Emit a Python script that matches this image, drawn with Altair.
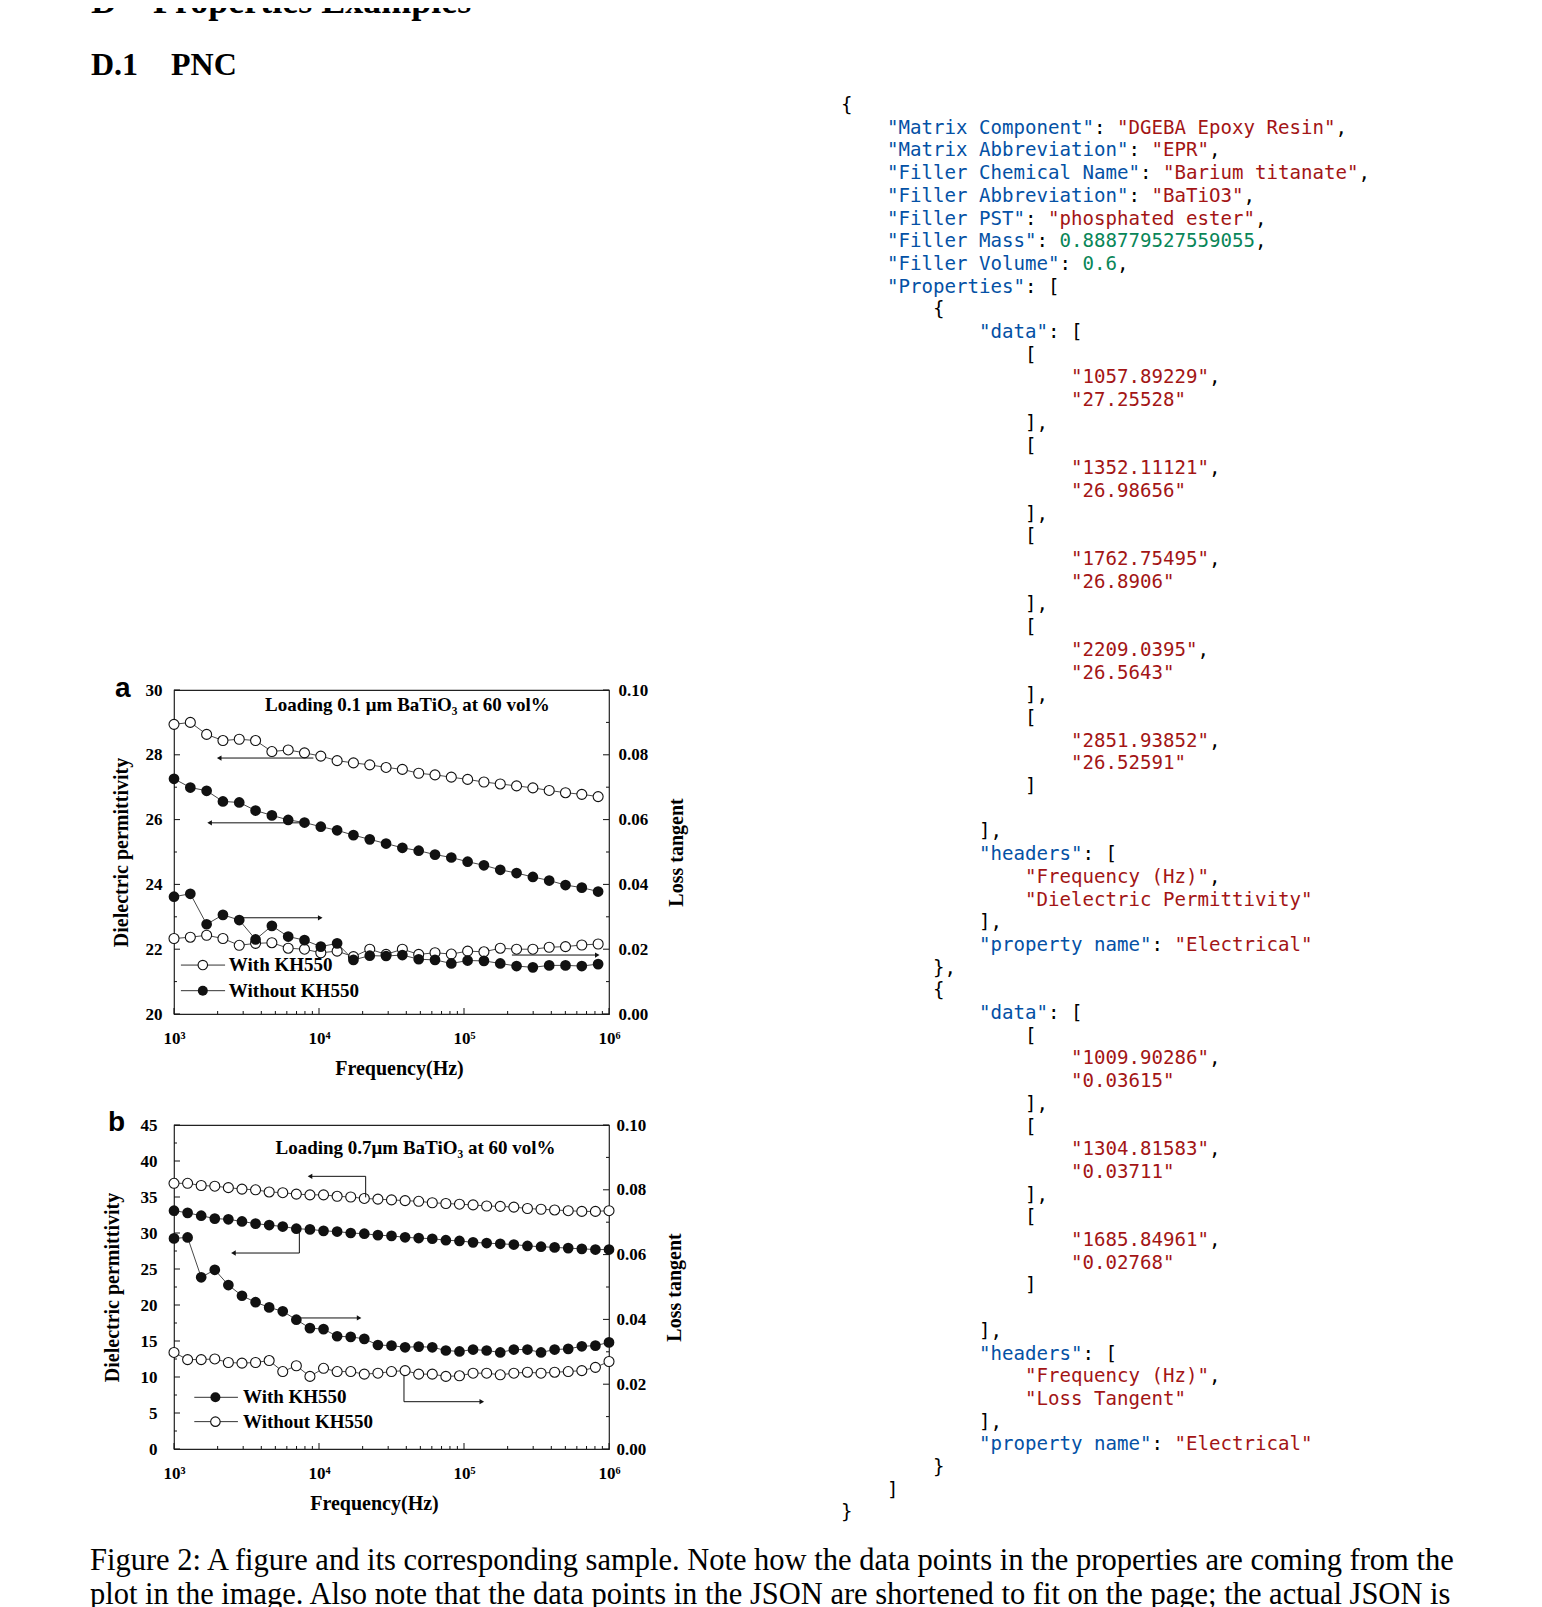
import altair as alt
import pandas as pd

# ---------------- Panel a data (0.1 um BaTiO3) ----------------
a_freq = [1000, 1296, 1679, 2175, 2818, 3652, 4732, 6131, 7943, 10290, 13335, 17278, 22387, 29007,
          37584, 48697, 63096, 81752, 105925, 137246, 177828, 230409, 298538, 386812, 501187, 649382, 841395]
a_diel_with = [28.94, 29.00, 28.63, 28.44, 28.48, 28.44, 28.10, 28.15, 28.06, 27.96, 27.82, 27.75, 27.69, 27.61,
               27.55, 27.43, 27.38, 27.31, 27.24, 27.16, 27.10, 27.04, 26.98, 26.90, 26.83, 26.78, 26.71]
a_diel_without = [27.26, 26.99, 26.89, 26.56, 26.53, 26.28, 26.13, 25.99, 25.91, 25.78, 25.67, 25.52, 25.39, 25.26,
                  25.13, 25.04, 24.92, 24.83, 24.70, 24.59, 24.45, 24.35, 24.23, 24.12, 23.98, 23.90, 23.78]
a_loss_without = [0.0362, 0.0371, 0.0277, 0.0306, 0.0290, 0.0230, 0.0272, 0.0239, 0.0228, 0.0208, 0.0218, 0.0167,
                  0.0180, 0.0179, 0.0182, 0.0169, 0.0167, 0.0156, 0.0165, 0.0164, 0.0156, 0.0148, 0.0144, 0.0150,
                  0.0150, 0.0148, 0.0154]
a_loss_with = [0.0233, 0.0237, 0.0243, 0.0233, 0.0212, 0.0218, 0.0220, 0.0203, 0.0200, 0.0189, 0.0194, 0.0177,
               0.0200, 0.0184, 0.0200, 0.0184, 0.0189, 0.0185, 0.0194, 0.0192, 0.0203, 0.0200, 0.0200, 0.0206,
               0.0208, 0.0213, 0.0216]
a_title = "Loading 0.1 \u03bcm BaTiO\u2083 at 60 vol%"
a_title_pos = (40700, 29.54)
a_harrows = [(9150, 2050, 27.9), (7600, 1760, 25.9), (2870, 10200, 22.97), (214000, 830000, 21.82)]
a_varrows = []
a_legend = [(1116, 2250, 1580, 2390, 21.51, "open", "With KH550"),
            (1116, 2250, 1580, 2390, 20.72, "fill", "Without KH550")]

# ---------------- Panel b data (0.7 um BaTiO3) ----------------
b_freq = [1000, 1241, 1540, 1911, 2371, 2943, 3652, 4532, 5623, 6978, 8660, 10746, 13335, 16548, 20535,
          25483, 31623, 39242, 48697, 60430, 74989, 93057, 115478, 143301, 177828, 220673, 273842, 339821,
          421697, 523299, 649382, 805842, 1000000]
b_diel_without = [36.9, 36.9, 36.6, 36.5, 36.3, 36.1, 36.0, 35.7, 35.6, 35.4, 35.3, 35.3, 35.1, 35.0, 34.8,
                  34.7, 34.6, 34.5, 34.4, 34.2, 34.1, 34.0, 33.9, 33.75, 33.7, 33.6, 33.4, 33.3, 33.2, 33.1,
                  33.0, 33.0, 33.1]
b_diel_with = [33.1, 32.8, 32.4, 32.0, 31.9, 31.6, 31.3, 31.1, 30.9, 30.6, 30.5, 30.3, 30.2, 30.0, 29.9,
               29.7, 29.6, 29.4, 29.3, 29.2, 29.0, 28.9, 28.7, 28.6, 28.5, 28.4, 28.2, 28.1, 28.0, 27.9,
               27.8, 27.7, 27.7]
b_loss_with = [0.0650, 0.0653, 0.0530, 0.0553, 0.0506, 0.0473, 0.0453, 0.0437, 0.0425, 0.0399, 0.0373, 0.0370,
               0.0348, 0.0346, 0.0340, 0.0321, 0.0319, 0.0314, 0.0316, 0.0314, 0.0304, 0.0301, 0.0307, 0.0304,
               0.0298, 0.0307, 0.0307, 0.0298, 0.0307, 0.0309, 0.0317, 0.0319, 0.0329]
b_loss_without = [0.0298, 0.0276, 0.0276, 0.0278, 0.0267, 0.0265, 0.0267, 0.0273, 0.0239, 0.0257, 0.0224,
                  0.0249, 0.0239, 0.0239, 0.0231, 0.0234, 0.0239, 0.0242, 0.0231, 0.0231, 0.0224, 0.0226,
                  0.0234, 0.0234, 0.0229, 0.0234, 0.0237, 0.0234, 0.0237, 0.0239, 0.0242, 0.0252, 0.0270]
b_title = "Loading 0.7\u03bcm BaTiO\u2083 at 60 vol%"
b_title_pos = (46300, 41.76)
b_harrows = [(20980, 8670, 37.87), (7320, 2570, 27.22), (7460, 18900, 18.2), (38550, 132700, 6.57)]
b_varrows = [(20980, 34.95, 37.87), (7320, 30.56, 27.22), (38550, 10.65, 6.57)]
b_legend = [(1380, 2760, 1930, 2990, 7.18, "fill", "With KH550"),
            (1380, 2760, 1930, 2990, 3.80, "open", "Without KH550")]

# ---------------- axis ticks ----------------
x_decades = [1e3, 1e4, 1e5, 1e6]
x_minor = [m * 10 ** e for e in (3, 4, 5) for m in range(2, 10)]
a_left_major = [20, 22, 24, 26, 28, 30]
a_left_minor = [21, 23, 25, 27, 29]
b_left_major = [0, 5, 10, 15, 20, 25, 30, 35, 40, 45]
b_left_minor = [2.5, 7.5, 12.5, 17.5, 22.5, 27.5, 32.5, 37.5, 42.5]
loss_major = [0.0, 0.02, 0.04, 0.06, 0.08, 0.10]
loss_minor = [0.01, 0.03, 0.05, 0.07, 0.09]

# ---------------- JSON sample ----------------
json_root = [("Matrix Component", "DGEBA Epoxy Resin"), ("Matrix Abbreviation", "EPR"),
             ("Filler Chemical Name", "Barium titanate"), ("Filler Abbreviation", "BaTiO3"),
             ("Filler PST", "phosphated ester")]
json_numbers = [("Filler Mass", "0.888779527559055"), ("Filler Volume", "0.6")]
json_diel_points = [("1057.89229", "27.25528"), ("1352.11121", "26.98656"), ("1762.75495", "26.8906"),
                    ("2209.0395", "26.5643"), ("2851.93852", "26.52591")]
json_loss_points = [("1009.90286", "0.03615"), ("1304.81583", "0.03711"), ("1685.84961", "0.02768")]
json_headers_1 = ["Frequency (Hz)", "Dielectric Permittivity"]
json_headers_2 = ["Frequency (Hz)", "Loss Tangent"]
json_property = "Electrical"

heading_main = ("D", "Properties Examples")
heading_sub = ("D.1", "PNC")
caption_lines = [
    "Figure 2: A figure and its corresponding sample. Note how the data points in the properties are coming from the",
    "plot in the image. Also note that the data points in the JSON are shortened to fit on the page; the actual JSON is",
]

SERIF = "Liberation Serif"
SANS = "Liberation Sans"
MONO = "DejaVu Sans Mono"
INK = "#111111"


def spacer(w, h):
    return alt.Chart(pd.DataFrame({"z": [0]})).mark_point(opacity=0, size=0).encode(
        x=alt.value(0), y=alt.value(0)).properties(width=w, height=h)


def text_layer(txt, x, y, size, weight="bold", font=SERIF, clip=False, align="left", baseline="alphabetic"):
    return alt.Chart(pd.DataFrame({"t": [txt]})).mark_text(
        font=font, fontSize=size, fontWeight=weight, align=align, baseline=baseline,
        color="black", clip=clip).encode(x=alt.value(x), y=alt.value(y), text="t:N")


def make_panel(W, H, freq, left_dom, left_major, left_minor, open_diel, fill_diel, open_loss, fill_loss,
               harrows, varrows, legend, title, title_pos, letter, letter_xy,
               lpad, ltpad, rpad, rtpad, xtitle_x):
    TL_MAJ, TL_MIN = 6, 3
    xscale = alt.Scale(type="log", domain=[1e3, 1e6], nice=False)
    xaxis = alt.Axis(values=x_decades, title="Frequency(Hz)", ticks=False, tickSize=0, domain=False, grid=False,
                     labelExpr="datum.value < 5000 ? '10\u00b3' : datum.value < 50000 ? '10\u2074' : "
                               "datum.value < 500000 ? '10\u2075' : '10\u2076'",
                     labelPadding=16, titlePadding=12, titleX=xtitle_x, labelFlush=False, labelOverlap=False)
    lscale = alt.Scale(domain=left_dom, nice=False, zero=False)
    laxis = alt.Axis(values=left_major, format="d", title="Dielectric permittivity", ticks=False, tickSize=0,
                     domain=False, grid=False, labelPadding=lpad, titlePadding=ltpad)
    rscale = alt.Scale(domain=[0, 0.1], nice=False, zero=False)
    raxis = alt.Axis(orient="right", values=loss_major, format=".2f", title="Loss tangent", titleAngle=270,
                     titleBaseline="top", ticks=False, tickSize=0, domain=False, grid=False,
                     labelPadding=rpad, titlePadding=rtpad)

    def X(f):
        return alt.X(f, type="quantitative", scale=xscale, axis=xaxis)

    def YL(f):
        return alt.Y(f, type="quantitative", scale=lscale, axis=laxis)

    def YR(f):
        return alt.Y(f, type="quantitative", scale=rscale, axis=raxis)

    dL_open = pd.DataFrame({"f": freq, "v": open_diel})
    dL_fill = pd.DataFrame({"f": freq, "v": fill_diel})
    dR_open = pd.DataFrame({"f": freq, "v": open_loss})
    dR_fill = pd.DataFrame({"f": freq, "v": fill_loss})

    def series(df, Y, kind):
        line = alt.Chart(df).mark_line(color="#333333", strokeWidth=0.9).encode(x=X("f"), y=Y("v"))
        if kind == "open":
            pts = alt.Chart(df).mark_point(shape="circle", filled=True, fill="white", stroke=INK,
                                           strokeWidth=1.1, size=100, opacity=1).encode(x=X("f"), y=Y("v"))
        else:
            pts = alt.Chart(df).mark_point(shape="circle", filled=True, color=INK, size=115,
                                           opacity=1).encode(x=X("f"), y=Y("v"))
        return [line, pts]

    def tdf(vals):
        return pd.DataFrame({"t": vals})
    lt = [alt.Chart(tdf(left_major)).mark_rule(color=INK, strokeWidth=1).encode(
              y=YL("t"), x=alt.value(0), x2=alt.value(TL_MAJ)),
          alt.Chart(tdf(left_minor)).mark_rule(color=INK, strokeWidth=1).encode(
              y=YL("t"), x=alt.value(0), x2=alt.value(TL_MIN)),
          alt.Chart(tdf(x_decades)).mark_rule(color=INK, strokeWidth=1).encode(
              x=X("t"), y=alt.value(H), y2=alt.value(H - TL_MAJ)),
          alt.Chart(tdf(x_minor)).mark_rule(color=INK, strokeWidth=1).encode(
              x=X("t"), y=alt.value(H), y2=alt.value(H - TL_MIN))]
    rt = [alt.Chart(tdf(loss_major)).mark_rule(color=INK, strokeWidth=1).encode(
              y=YR("t"), x=alt.value(W - TL_MAJ), x2=alt.value(W)),
          alt.Chart(tdf(loss_minor)).mark_rule(color=INK, strokeWidth=1).encode(
              y=YR("t"), x=alt.value(W - TL_MIN), x2=alt.value(W))]

    hdf = pd.DataFrame(harrows, columns=["x1", "x2", "y"])
    heads = pd.DataFrame({"x": hdf["x2"], "y": hdf["y"],
                          "d": ["left" if b < a else "right" for a, b in zip(hdf["x1"], hdf["x2"])]})
    arrows = [alt.Chart(hdf).mark_rule(color=INK, strokeWidth=1).encode(x=X("x1"), x2=alt.X2("x2"), y=YL("y")),
              alt.Chart(heads).mark_point(filled=True, color=INK, size=28, opacity=1).encode(
                  x=X("x"), y=YL("y"),
                  shape=alt.Shape("d:N", scale=alt.Scale(domain=["left", "right"],
                                                         range=["triangle-left", "triangle-right"]),
                                  legend=None))]
    if varrows:
        vdf = pd.DataFrame(varrows, columns=["x", "y1", "y2"])
        arrows.append(alt.Chart(vdf).mark_rule(color=INK, strokeWidth=1).encode(
            x=X("x"), y=YL("y1"), y2=alt.Y2("y2")))

    ldf = pd.DataFrame(legend, columns=["x1", "x2", "xc", "xt", "y", "kind", "label"])
    leg = [alt.Chart(ldf).mark_rule(color="#333333", strokeWidth=1).encode(x=X("x1"), x2=alt.X2("x2"), y=YL("y")),
           alt.Chart(ldf[ldf.kind == "open"]).mark_point(shape="circle", filled=True, fill="white", stroke=INK,
                                                         strokeWidth=1.1, size=90, opacity=1).encode(
               x=X("xc"), y=YL("y")),
           alt.Chart(ldf[ldf.kind == "fill"]).mark_point(shape="circle", filled=True, color=INK, size=100,
                                                         opacity=1).encode(x=X("xc"), y=YL("y")),
           alt.Chart(ldf).mark_text(font=SERIF, fontWeight="bold", fontSize=19, align="left",
                                    baseline="middle", color="black").encode(x=X("xt"), y=YL("y"), text="label:N")]

    tdfm = pd.DataFrame({"x": [title_pos[0]], "y": [title_pos[1]], "t": [title]})
    ttl = alt.Chart(tdfm).mark_text(font=SERIF, fontWeight="bold", fontSize=19, align="center",
                                    baseline="middle", color="black").encode(x=X("x"), y=YL("y"), text="t:N")
    let = text_layer(letter, letter_xy[0], letter_xy[1], 28, font=SANS, baseline="middle")

    left = alt.layer(*lt, *series(dL_open, YL, "open"), *series(dL_fill, YL, "fill"),
                     *arrows, *leg, ttl, let)
    right = alt.layer(*rt, *series(dR_open, YR, "open"), *series(dR_fill, YR, "fill"))
    return alt.layer(left, right).resolve_scale(y="independent").properties(
        width=W, height=H, view=alt.ViewBackground(stroke="#222222", strokeWidth=1.2))


PW, PH = 435, 324
panel_a = make_panel(PW, PH, a_freq, [20, 30], a_left_major, a_left_minor,
                     a_diel_with, a_diel_without, a_loss_with, a_loss_without,
                     a_harrows, a_varrows, a_legend, a_title, a_title_pos, "a", (-59, -1),
                     12, 14, 9, 19, 225)
panel_b = make_panel(PW, PH, b_freq, [0, 45], b_left_major, b_left_minor,
                     b_diel_without, b_diel_with, b_loss_without, b_loss_with,
                     b_harrows, b_varrows, b_legend, b_title, b_title_pos, "b", (-66, -2),
                     17, 18, 7, 19, 200)

# ---------------- JSON text block ----------------
lines = []


def ln(indent, *segs):
    lines.append((indent, list(segs)))


P, K, S, N = "p", "k", "s", "n"
ln(0, ("{", P))
for k, v in json_root:
    ln(4, (f'"{k}"', K), (": ", P), (f'"{v}"', S), (",", P))
for k, v in json_numbers:
    ln(4, (f'"{k}"', K), (": ", P), (v, N), (",", P))
ln(4, ('"Properties"', K), (": [", P))


def prop_block(points, headers, last):
    ln(8, ("{", P))
    ln(12, ('"data"', K), (": [", P))
    for i, (fx, fy) in enumerate(points):
        ln(16, ("[", P))
        ln(20, (f'"{fx}"', S), (",", P))
        ln(20, (f'"{fy}"', S))
        ln(16, ("]," if i < len(points) - 1 else "]", P))
    ln(0)
    ln(12, ("],", P))
    ln(12, ('"headers"', K), (": [", P))
    ln(16, (f'"{headers[0]}"', S), (",", P))
    ln(16, (f'"{headers[1]}"', S))
    ln(12, ("],", P))
    ln(12, ('"property name"', K), (": ", P), (f'"{json_property}"', S))
    ln(8, ("}" if last else "},", P))


prop_block(json_diel_points, json_headers_1, False)
prop_block(json_loss_points, json_headers_2, True)
ln(4, ("]", P))
ln(0, ("}", P))

rows = []
for i, (ind, segs) in enumerate(lines):
    c = ind
    for txt, kind in segs:
        rows.append({"col": c, "line": i, "text": txt, "kind": kind})
        c += len(txt)
jdf = pd.DataFrame(rows)

# left strip (page x 8..174, y 90..1607) that also carries the JSON block and caption
SW, SH = 166, 1517
CW, LH = 11.5, 22.7
jx0 = -833 / CW
jy0 = -15 / LH
json_layer = alt.Chart(jdf).mark_text(font=MONO, fontSize=19.1, align="left", baseline="middle").encode(
    x=alt.X("col:Q", scale=alt.Scale(domain=[jx0, jx0 + SW / CW], nice=False, zero=False), axis=None),
    y=alt.Y("line:Q", scale=alt.Scale(domain=[jy0, jy0 + SH / LH], nice=False, zero=False, reverse=True),
            axis=None),
    text="text:N",
    color=alt.Color("kind:N", scale=alt.Scale(domain=["p", "k", "s", "n"],
                                              range=["#000000", "#0451a5", "#a31515", "#098658"]), legend=None),
)
strip = alt.layer(
    json_layer,
    text_layer(caption_lines[0], 82, 1480, 30.5, weight="normal"),
    text_layer(caption_lines[1], 82, 1514, 30.5, weight="normal"),
).properties(width=SW, height=SH)

# ---------------- header ----------------
header = alt.layer(
    text_layer(heading_main[0], 83, 5, 36, clip=True),
    text_layer(heading_main[1], 145, 5, 36, clip=True),
    text_layer(heading_sub[0], 83, 67, 32),
    text_layer(heading_sub[1], 163, 67, 32),
).properties(width=1526, height=82)

left_col = alt.vconcat(spacer(10, 489), panel_a, panel_b, spacing=111, bounds="flush")
row = alt.hconcat(strip, left_col, spacing=0, bounds="flush")
chart = alt.vconcat(header, row, spacing=0, bounds="flush").properties(
    padding=0
).configure_view(stroke=None).configure_axis(
    labelFont=SERIF, labelFontWeight="bold", labelFontSize=17, labelColor="black",
    titleFont=SERIF, titleFontWeight="bold", titleFontSize=20, titleColor="black"
)

chart.save("out.html", embed_options={"renderer": "svg", "actions": False})
